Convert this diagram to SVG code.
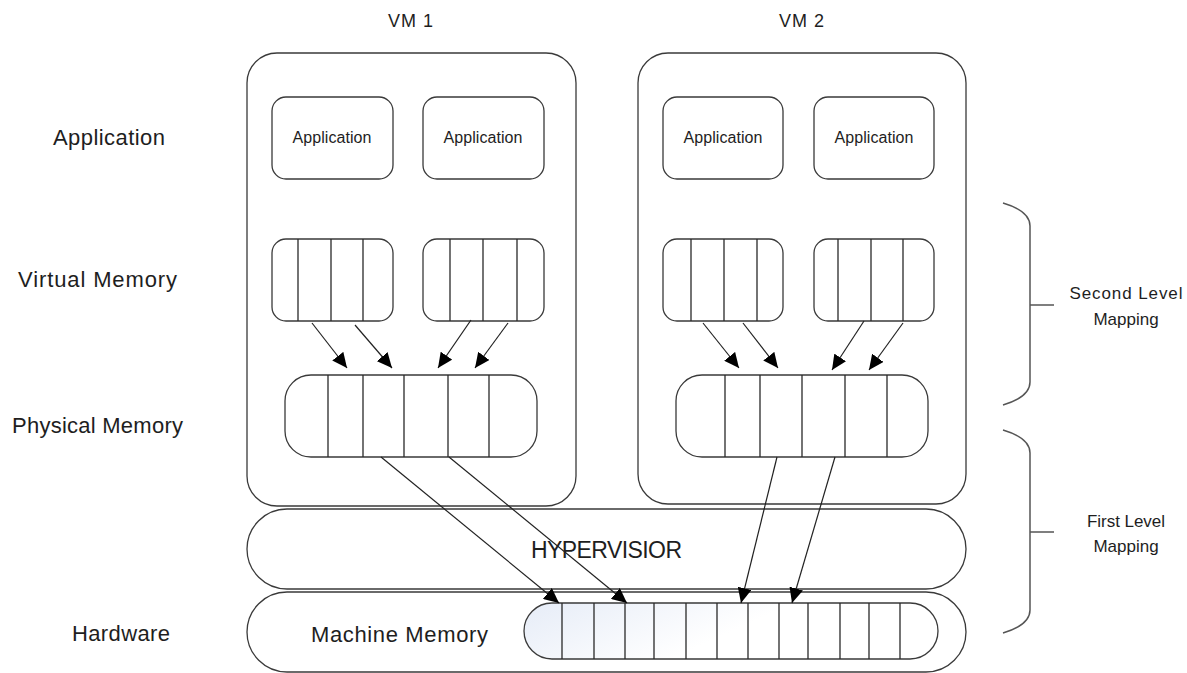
<svg xmlns="http://www.w3.org/2000/svg" width="1187" height="673" viewBox="0 0 1187 673">
  <style>
    .box { fill: #fff; stroke: #3a3a3a; stroke-width: 1.3; }
    .div { stroke: #2a2a2a; stroke-width: 1.3; fill: none; }
    .edge { stroke: #222; stroke-width: 1.2; fill: none; marker-end: url(#arrow); }
    .brace { stroke: #555; stroke-width: 1.5; fill: none; }
    .lbl { font-family: "Liberation Sans", Arial, sans-serif; fill: #1e1e1e; }
    .side { font-size: 22px; }
    .app { font-size: 16px; text-anchor: middle; }
    .map { font-size: 17px; text-anchor: middle; }
  </style>
  <defs>
    <marker id="arrow" markerUnits="userSpaceOnUse" markerWidth="16" markerHeight="14" refX="15" refY="7" orient="auto">
      <path d="M0,0 L15,7 L0,14 z" fill="#000"/>
    </marker>
    <linearGradient id="mmFill" x1="0" y1="0" x2="1" y2="0.3">
      <stop offset="0" stop-color="#e6ecf7"/>
      <stop offset="0.6" stop-color="#ffffff"/>
    </linearGradient>
  </defs>
  <rect width="1187" height="673" fill="#fff"/>

  <!-- layer labels -->
  <g id="layer-labels" class="lbl side">
    <text x="53" y="145" textLength="112">Application</text>
    <text x="18" y="287" textLength="159">Virtual Memory</text>
    <text x="12" y="433" textLength="171">Physical Memory</text>
    <text x="72" y="641" textLength="98">Hardware</text>
  </g>

  <!-- VM titles -->
  <g id="vm-titles" class="lbl" font-size="18">
    <text x="388" y="27" textLength="45">VM 1</text>
    <text x="779" y="27" textLength="45">VM 2</text>
  </g>

  <!-- hardware layer -->
  <g id="hardware">
    <rect class="box" x="247" y="592" width="719" height="80" rx="40"/>
    <text class="lbl" x="311" y="642" font-size="22" textLength="177">Machine Memory</text>
  </g>

  <!-- machine memory frames -->
  <g id="machine-memory">
    <rect x="524" y="603" width="414" height="56" rx="28" fill="url(#mmFill)" stroke="#3a3a3a" stroke-width="1.3"/>
    <path class="div" d="M562,603V659 M594,603V659 M625,603V659 M654,603V659 M686,603V659 M717,603V659 M748,603V659 M779,603V659 M808,603V659 M840,603V659 M869,603V659 M900,603V659"/>
  </g>

  <!-- hypervisor layer -->
  <g id="hypervisor">
    <rect class="box" x="247" y="509" width="719" height="80" rx="40"/>
    <text class="lbl" x="531" y="558" font-size="23" textLength="151">HYPERVISIOR</text>
  </g>

  <!-- VM 1 -->
  <g id="vm1">
    <rect class="box" x="247" y="53" width="329" height="453" rx="30"/>
  </g>
  <g id="vm1-app1">
    <rect class="box" x="272" y="97" width="121" height="82" rx="14"/>
    <text class="lbl app" x="332" y="143" textLength="79">Application</text>
  </g>
  <g id="vm1-app2">
    <rect class="box" x="423" y="97" width="121" height="82" rx="14"/>
    <text class="lbl app" x="483" y="143" textLength="79">Application</text>
  </g>
  <g id="vm1-vmem1">
    <rect class="box" x="272" y="239" width="121" height="82" rx="14"/>
    <path class="div" d="M298,239V321 M331,239V321 M363,239V321"/>
  </g>
  <g id="vm1-vmem2">
    <rect class="box" x="423" y="239" width="121" height="82" rx="14"/>
    <path class="div" d="M450,239V321 M483,239V321 M517,239V321"/>
  </g>
  <g id="vm1-pmem">
    <rect class="box" x="285" y="375" width="252" height="82" rx="26"/>
    <path class="div" d="M328,375V457 M363,375V457 M404,375V457 M448,375V457 M489,375V457"/>
  </g>

  <!-- VM 2 -->
  <g id="vm2">
    <rect class="box" x="638" y="53" width="328" height="451" rx="30"/>
  </g>
  <g id="vm2-app1">
    <rect class="box" x="663" y="97" width="120" height="82" rx="14"/>
    <text class="lbl app" x="723" y="143" textLength="79">Application</text>
  </g>
  <g id="vm2-app2">
    <rect class="box" x="814" y="97" width="120" height="82" rx="14"/>
    <text class="lbl app" x="874" y="143" textLength="79">Application</text>
  </g>
  <g id="vm2-vmem1">
    <rect class="box" x="663" y="239" width="120" height="82" rx="14"/>
    <path class="div" d="M691,239V321 M724,239V321 M757,239V321"/>
  </g>
  <g id="vm2-vmem2">
    <rect class="box" x="814" y="239" width="120" height="82" rx="14"/>
    <path class="div" d="M838,239V321 M871,239V321 M903,239V321"/>
  </g>
  <g id="vm2-pmem">
    <rect class="box" x="676" y="375" width="252" height="82" rx="26"/>
    <path class="div" d="M725,375V457 M760,375V457 M802,375V457 M845,375V457 M887,375V457"/>
  </g>

  <!-- mapping arrows -->
  <g id="connectors">
    <line class="edge" x1="312" y1="323" x2="347" y2="368"/>
    <line class="edge" x1="355" y1="325" x2="392" y2="368"/>
    <line class="edge" x1="471" y1="320" x2="438" y2="368"/>
    <line class="edge" x1="508" y1="323" x2="475" y2="368"/>
    <line class="edge" x1="703" y1="323" x2="739" y2="368"/>
    <line class="edge" x1="743" y1="323" x2="778" y2="368"/>
    <line class="edge" x1="864" y1="321" x2="832" y2="370"/>
    <line class="edge" x1="903" y1="323" x2="869" y2="370"/>
    <line class="edge" x1="381" y1="457" x2="559" y2="603"/>
    <line class="edge" x1="449" y1="457" x2="627" y2="603"/>
    <line class="edge" x1="777" y1="457" x2="741" y2="603"/>
    <line class="edge" x1="835" y1="457" x2="792" y2="603"/>
  </g>

  <!-- mapping braces -->
  <g id="second-level-mapping">
    <path class="brace" d="M1003,203 Q1030,211 1030,226 V382 Q1030,397 1003,405 M1030,305 H1054"/>
    <text class="lbl map" x="1126" y="299" textLength="113">Second Level</text>
    <text class="lbl map" x="1126" y="325">Mapping</text>
  </g>
  <g id="first-level-mapping">
    <path class="brace" d="M1003,430 Q1030,438 1030,453 V610 Q1030,625 1003,633 M1030,532 H1054"/>
    <text class="lbl map" x="1126" y="527" textLength="78">First Level</text>
    <text class="lbl map" x="1126" y="552">Mapping</text>
  </g>
</svg>
